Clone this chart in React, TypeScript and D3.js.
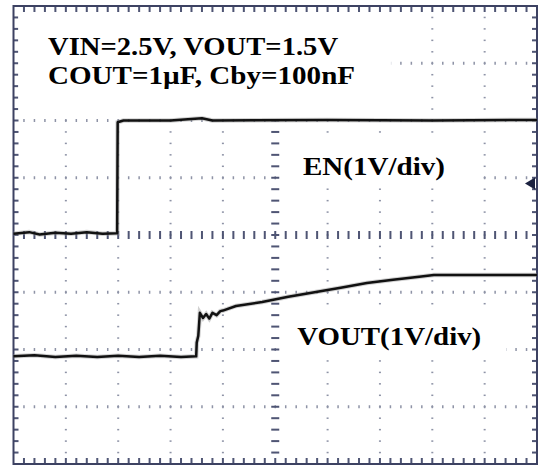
import React, { Component } from 'react'
import * as d3 from 'd3'

// screen is 10 x 8 divisions, 5 minor ticks per division
const xDivisions = 10
const yDivisions = 8
const minorPerDiv = 5

// traces as [time (div), volts (1V/div)]
const enTrace: [number, number][] = [
    [0, 0.02], [0.3, 0.05], [0.5, 0.01], [0.8, 0.04], [1.1, 0.02], [1.4, 0.05],
    [1.7, 0.02], [1.98, 0.03], [1.99, 1.97], [2.1, 2.0], [3.0, 2.0], [3.6, 2.04],
    [3.8, 2.0], [6.0, 2.01], [8.0, 2.0], [10, 2.01],
]

const voutTrace: [number, number][] = [
    [0, -2.12], [0.4, -2.1], [0.8, -2.13], [1.2, -2.11], [1.6, -2.13], [2.0, -2.11],
    [2.4, -2.13], [2.8, -2.11], [3.2, -2.13], [3.49, -2.12], [3.5, -1.88], [3.53, -1.76],
    [3.56, -1.36], [3.62, -1.45], [3.68, -1.38], [3.74, -1.46], [3.8, -1.36], [3.88, -1.4],
    [3.95, -1.33], [4.0, -1.32], [4.25, -1.24], [4.75, -1.17], [5.25, -1.08], [5.75, -1.0],
    [6.25, -0.92], [6.75, -0.84], [7.25, -0.78], [7.75, -0.73], [8.03, -0.7], [10, -0.7],
]

const conditionLines = ['VIN=2.5V, VOUT=1.5V', 'COUT=1\u00b5F, Cby=100nF']
const enLabel = 'EN(1V/div)'
const voutLabel = 'VOUT(1V/div)'

class App extends Component {
    width: number
    height: number
    x: d3.ScaleLinear<number, number, never>
    y: d3.ScaleLinear<number, number, never>

    constructor(props) {
        super(props)
        this.width = 538
        this.height = 468
        this.x = d3.scaleLinear().domain([0, xDivisions]).range([13.5, 537])
        this.y = d3.scaleLinear().domain([-yDivisions / 2, yDivisions / 2]).range([464, 6])
    }

    render() {
        const x = this.x
        const y = this.y
        const dotColor = '#8e93a6'
        const tickColor = '#4f5574'
        const frameColor = '#3d4262'

        const xMinor = d3.range(1, xDivisions * minorPerDiv).map(k => k / minorPerDiv)
        const yMinor = d3.range(1, yDivisions * minorPerDiv).map(k => k / minorPerDiv - yDivisions / 2)

        // dotted grid lines
        const gridDots: JSX.Element[] = []
        d3.range(1, xDivisions).filter(i => i !== xDivisions / 2).forEach(i => {
            yMinor.forEach((v, k) => {
                gridDots.push(<rect key={`gv-${i}-${k}`} x={x(i) - 1} y={y(v) - 0.75} width={2} height={1.5} fill={dotColor} />)
            })
        })
        d3.range(-yDivisions / 2 + 1, yDivisions / 2).filter(j => j !== 0).forEach(j => {
            xMinor.forEach((t, k) => {
                gridDots.push(<rect key={`gh-${j}-${k}`} x={x(t) - 0.75} y={y(j) - 1.5} width={1.5} height={3} fill={dotColor} />)
            })
        })

        // centre cross and frame ticks
        const ticks: JSX.Element[] = []
        xMinor.forEach((t, k) => {
            ticks.push(<rect key={`ch-${k}`} x={x(t) - 1} y={y(0) - 4} width={2} height={8} fill={tickColor} />)
            ticks.push(<rect key={`tt-${k}`} x={x(t) - 1} y={y(yDivisions / 2)} width={2} height={6} fill={tickColor} />)
            ticks.push(<rect key={`tb-${k}`} x={x(t) - 1} y={y(-yDivisions / 2) - 6} width={2} height={6} fill={tickColor} />)
        })
        yMinor.forEach((v, k) => {
            ticks.push(<rect key={`cv-${k}`} x={x(xDivisions / 2) - 4} y={y(v) - 1} width={8} height={2} fill={tickColor} />)
            ticks.push(<rect key={`tl-${k}`} x={x(0)} y={y(v) - 1} width={5} height={2} fill={tickColor} />)
            ticks.push(<rect key={`tr-${k}`} x={x(xDivisions) - 5} y={y(v) - 1} width={5} height={2} fill={tickColor} />)
        })

        // white patches behind the labels
        const boxes: [number, number, number, number][] = [
            [0.09, 7.21, 3.86, 2.08],
            [5.15, 8.83, 1.66, 0.82],
            [5.15, 9.41, -1.29, -2.18],
        ]

        const line = d3.line<[number, number]>().x(d => x(d[0])).y(d => y(d[1]))

        const labelStyle = {
            fontFamily: '"Liberation Serif", "Times New Roman", serif',
            fontWeight: 'bold' as const,
            fontSize: 26,
            fill: '#000',
        }

        const markerY = y(0.9)
        const markerX = x(xDivisions)

        return (
            <svg width={this.width} height={this.height} style={{ position: 'absolute', left: 0, top: 0, background: '#fff' }}>
                <rect x={0} y={0} width={this.width} height={this.height} fill="#fff" />
                {gridDots}
                {ticks}
                {boxes.map((b, i) => (
                    <rect key={`box-${i}`} x={x(b[0])} y={y(b[2])} width={x(b[1]) - x(b[0])} height={y(b[3]) - y(b[2])} fill="#fff" />
                ))}
                <rect x={x(0)} y={y(yDivisions / 2)} width={x(xDivisions) - x(0)} height={y(-yDivisions / 2) - y(yDivisions / 2)}
                      fill="none" stroke={frameColor} strokeWidth={2} />

                {[enTrace, voutTrace].map((tr, i) => (
                    <g key={`trace-${i}`}>
                        <path d={line(tr)} fill="none" stroke="#999" strokeWidth={4.5} strokeOpacity={0.45} />
                        <path d={line(tr)} fill="none" stroke="#111" strokeWidth={2.5} strokeLinejoin="round" />
                    </g>
                ))}
                <path d={`M${markerX - 12},${markerY} L${markerX - 2},${markerY - 6} L${markerX - 2},${markerY + 6} Z`} fill="#1c2240" />

                <text x={x(0.66)} y={y(3.14)} textLength={290} lengthAdjust="spacingAndGlyphs" style={labelStyle}>{conditionLines[0]}</text>
                <text x={x(0.66)} y={y(2.64)} textLength={307} lengthAdjust="spacingAndGlyphs" style={labelStyle}>{conditionLines[1]}</text>
                <text x={x(5.53)} y={y(1.05)} textLength={142} lengthAdjust="spacingAndGlyphs" style={labelStyle}>{enLabel}</text>
                <text x={x(5.42)} y={y(-1.92)} textLength={184} lengthAdjust="spacingAndGlyphs" style={labelStyle}>{voutLabel}</text>
            </svg>
        )
    }
}

export default App
